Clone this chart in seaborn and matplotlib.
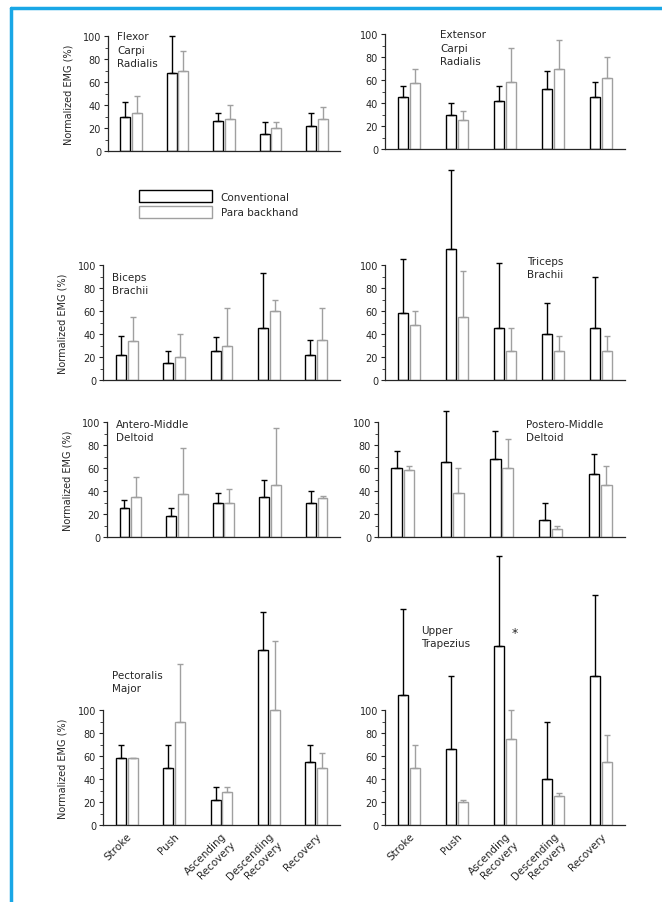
import numpy as np
import pandas as pd
import seaborn as sns
import matplotlib.pyplot as plt
from matplotlib.lines import Line2D
from matplotlib.ticker import FixedLocator

phases = ["Stroke", "Push", "Ascending\nRecovery", "Descending\nRecovery", "Recovery"]
groups = ["Conventional", "Para backhand"]

muscles = ["Flexor\nCarpi\nRadialis", "Extensor\nCarpi\nRadialis",
           "Biceps\nBrachii", "Triceps\nBrachii",
           "Antero-Middle\nDeltoid", "Postero-Middle\nDeltoid",
           "Pectoralis\nMajor", "Upper\nTrapezius"]

# mean and mean+SD (top of error bar), % normalized EMG
fcr_conv = [30, 68, 26, 15, 22];    fcr_conv_top = [43, 100, 33, 25, 33]
fcr_para = [33, 70, 28, 20, 28];    fcr_para_top = [48, 87, 40, 25, 38]
ecr_conv = [45, 30, 42, 52, 45];    ecr_conv_top = [55, 40, 55, 68, 58]
ecr_para = [57, 25, 58, 70, 62];    ecr_para_top = [70, 33, 88, 95, 80]
bic_conv = [22, 15, 25, 45, 22];    bic_conv_top = [38, 25, 37, 93, 35]
bic_para = [34, 20, 30, 60, 35];    bic_para_top = [55, 40, 63, 70, 63]
tri_conv = [58, 114, 45, 40, 45];   tri_conv_top = [105, 183, 102, 67, 90]
tri_para = [48, 55, 25, 25, 25];    tri_para_top = [60, 95, 45, 38, 38]
amd_conv = [25, 18, 30, 35, 30];    amd_conv_top = [32, 25, 38, 50, 40]
amd_para = [35, 37, 30, 45, 34];    amd_para_top = [52, 77, 42, 95, 36]
pmd_conv = [60, 65, 68, 15, 55];    pmd_conv_top = [75, 110, 92, 30, 72]
pmd_para = [58, 38, 60, 7, 45];     pmd_para_top = [62, 60, 85, 10, 62]
pec_conv = [58, 50, 22, 152, 55];   pec_conv_top = [70, 70, 33, 185, 70]
pec_para = [58, 90, 29, 100, 50];   pec_para_top = [58, 140, 33, 160, 63]
trp_conv = [113, 66, 156, 40, 130]; trp_conv_top = [188, 130, 234, 90, 200]
trp_para = [50, 20, 75, 25, 55];    trp_para_top = [70, 22, 100, 28, 78]

conv_all = [fcr_conv, ecr_conv, bic_conv, tri_conv, amd_conv, pmd_conv, pec_conv, trp_conv]
conv_top_all = [fcr_conv_top, ecr_conv_top, bic_conv_top, tri_conv_top,
                amd_conv_top, pmd_conv_top, pec_conv_top, trp_conv_top]
para_all = [fcr_para, ecr_para, bic_para, tri_para, amd_para, pmd_para, pec_para, trp_para]
para_top_all = [fcr_para_top, ecr_para_top, bic_para_top, tri_para_top,
                amd_para_top, pmd_para_top, pec_para_top, trp_para_top]

sns.set_theme(style="white")
plt.rcParams['font.family'] = ['DejaVu Sans']
plt.rcParams['font.size'] = 7

W, H = 662, 903
fig = plt.figure(figsize=(W / 100, H / 100), dpi=100)

# axes geometry in pixels: (left, right, zero line y, max value shown)
px_per_unit = 1.15
boxes = [(108, 340, 152, 105), (385, 625, 150, 105),
         (103, 340, 381, 105), (385, 625, 381, 190),
         (107, 340, 538, 110), (378, 625, 538, 112),
         (103, 340, 826, 190), (385, 625, 826, 240)]
# muscle label positions (category x, value y)
label_pos = [(-0.3, 104), (0.65, 104), (-0.3, 94), (2.45, 108),
             (-0.3, 103), (2.5, 103), (-0.3, 135), (0.25, 174)]

palette = {"Conventional": "black", "Para backhand": "#a0a0a0"}
axes = []
bar_sets = []
for i in range(8):
    l, r, y0, ymax = boxes[i]
    h = ymax * px_per_unit
    ax = fig.add_axes([l / W, 1 - y0 / H, (r - l) / W, h / H])
    ax.patch.set_alpha(0)
    df = pd.DataFrame({
        "phase": phases * 2,
        "group": [groups[0]] * 5 + [groups[1]] * 5,
        "value": conv_all[i] + para_all[i],
    })
    sns.barplot(data=df, x="phase", y="value", hue="group", order=phases,
                hue_order=groups, palette=palette, fill=False, width=0.5,
                gap=0.15, linewidth=1.0, errorbar=None, legend=False, ax=ax)
    bars = list(ax.containers)
    tops = [conv_top_all[i], para_top_all[i]]
    means = [conv_all[i], para_all[i]]
    for k, cont in enumerate(bars):
        xs = [b.get_x() + b.get_width() / 2 for b in cont]
        m = np.array(means[k])
        t = np.array(tops[k])
        ax.errorbar(xs, m, yerr=[np.zeros(5), t - m], fmt="none",
                    ecolor=palette[groups[k]], elinewidth=1.0, capsize=2.5,
                    clip_on=False)
    ax.set_xlim(-0.5, 4.5)
    ax.set_ylim(0, ymax)
    ax.set_yticks([0, 20, 40, 60, 80, 100])
    ax.yaxis.set_minor_locator(FixedLocator([10, 30, 50, 70, 90]))
    ax.spines["left"].set_bounds(0, 100)
    for s in ["top", "right"]:
        ax.spines[s].set_visible(False)
    ax.spines["left"].set_linewidth(0.9)
    ax.spines["bottom"].set_linewidth(0.9)
    ax.tick_params(axis="y", which="major", direction="out", length=3, width=0.8,
                   labelsize=7, pad=2, left=True)
    ax.tick_params(axis="y", which="minor", direction="out", length=2, width=0.6, left=True)
    ax.set_xlabel("")
    ax.set_ylabel("")
    if i % 2 == 0:
        ax.set_ylabel("Normalized EMG (%)", fontsize=7)
        ax.yaxis.set_label_coords(-0.15, 50 / ymax)
    if i >= 6:
        ax.set_xticks(range(5))
        ax.set_xticklabels(phases, rotation=45, ha="right", rotation_mode="anchor",
                           fontsize=7.5)
        ax.tick_params(axis="x", length=0, pad=4)
    else:
        ax.set_xticks([])
    lx, ly = label_pos[i]
    ax.text(lx, ly, muscles[i], fontsize=7.5, va="top", ha="left", linespacing=1.4)
    axes.append(ax)
    bar_sets.append(bars)

axes[7].text(2.2, 167, "*", fontsize=9, ha="center", va="center")

fig.legend(handles=bar_sets[0], labels=groups,
           loc="upper left", bbox_to_anchor=(130 / W, 1 - 182 / H),
           frameon=False, fontsize=7.5, handlelength=7, handleheight=1.4,
           labelspacing=0.3)

# blue frame of the figure page
fig.add_artist(Line2D([11 / W, 11 / W], [0, 1 - 9 / H], color="#19a7e6", lw=2.5))
fig.add_artist(Line2D([11 / W, 1], [1 - 9 / H, 1 - 9 / H], color="#19a7e6", lw=2.5))

fig.savefig("out.png", dpi=100)
